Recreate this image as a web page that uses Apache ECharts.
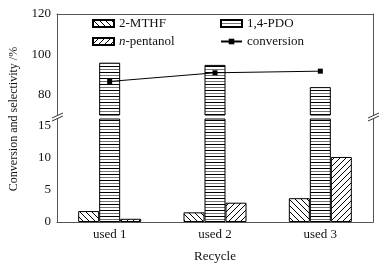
<!DOCTYPE html>
<html>
<head>
<meta charset="utf-8">
<script src="https://cdn.jsdelivr.net/npm/echarts@6/dist/echarts.min.js"></script>
<style>
  html, body { margin: 0; padding: 0; background: #fff; }
  #chart { width: 384px; height: 266px; }
</style>
</head>
<body>
<div id="chart"></div>
<script>
// data
const categories = ['used 1', 'used 2', 'used 3'];
const mthf = [1.7, 1.5, 3.7];
const pdo = [95.9, 94.8, 83.8];
const pentanol = [0.5, 3.0, 10.1];
const conversion = [86.6, 90.9, 91.7];
const upperLabels = [80, 100, 120];
const upperTicks = [80, 90, 100, 110, 120];
const lowerLabels = [0, 5, 10, 15];
const lowerTicks = [0, 2.5, 5, 7.5, 10, 12.5, 15];

const FONT = '"Liberation Serif", "Times New Roman", serif';
const INK = '#111';
const AXIS = '#555';

// layout of the two stacked panels (broken axis)
const L = 57, R = 11;
const upTop = 14, upH = 101;
const loTop = 119, loH = 103;

function hatch(dir) {
  const s = 6;
  const c = document.createElement('canvas');
  c.width = c.height = s;
  const g = c.getContext('2d');
  g.fillStyle = '#fff';
  g.fillRect(0, 0, s, s);
  g.strokeStyle = '#000';
  g.lineWidth = 1;
  g.beginPath();
  if (dir > 0) {
    g.moveTo(0, s); g.lineTo(s, 0);
    g.moveTo(-1, 1); g.lineTo(1, -1);
    g.moveTo(s - 1, s + 1); g.lineTo(s + 1, s - 1);
  } else {
    g.moveTo(0, 0); g.lineTo(s, s);
    g.moveTo(-1, s - 1); g.lineTo(1, s + 1);
    g.moveTo(s - 1, -1); g.lineTo(s + 1, 1);
  }
  g.stroke();
  return { image: c, repeat: 'repeat' };
}
function stripes() {
  const c = document.createElement('canvas');
  c.width = 4; c.height = 6;
  const g = c.getContext('2d');
  g.fillStyle = '#fff';
  g.fillRect(0, 0, 4, 6);
  g.fillStyle = '#000';
  g.fillRect(0, 0, 4, 1);
  g.fillStyle = '#777';
  g.fillRect(0, 3, 4, 1);
  return { image: c, repeat: 'repeat' };
}
const pBack = hatch(-1), pFwd = hatch(1), pStripe = stripes();

const chart = echarts.init(document.getElementById('chart'), null, { renderer: 'canvas' });

const barBase = { type: 'bar', barWidth: 21, barGap: '0%', animation: false };
function barStyle(fill) {
  return { color: fill, borderColor: '#000', borderWidth: 1 };
}
const dashes = arr => arr.map(() => '-');

function slash(x, y) {
  return {
    type: 'line', silent: true,
    shape: { x1: x - 5, y1: y + 2.5, x2: x + 6, y2: y - 2.5 },
    style: { stroke: '#333', lineWidth: 1 }
  };
}
const breakY = (upTop + upH + loTop) / 2;

const option = {
  animation: false,
  textStyle: { fontFamily: FONT, color: INK },
  grid: [
    { left: L, right: R, top: upTop, height: upH },
    { left: L, right: R, top: loTop, height: loH }
  ],
  legend: [
    {
      left: 87, top: 12, orient: 'vertical', itemWidth: 21, itemHeight: 7, itemGap: 5,
      textStyle: { fontFamily: FONT, fontSize: 13, color: INK, rich: { i: { fontFamily: FONT, fontSize: 13, fontStyle: 'italic', color: INK } } },
      formatter: n => n === 'n-pentanol' ? '{i|n}-pentanol' : n,
      data: [{ name: '2-MTHF', icon: 'rect' }, { name: 'n-pentanol', icon: 'rect' }]
    },
    {
      left: 215, top: 12, orient: 'vertical', itemWidth: 21, itemHeight: 7, itemGap: 5,
      textStyle: { fontFamily: FONT, fontSize: 13, color: INK },
      data: [{ name: '1,4-PDO', icon: 'rect' }, { name: 'conversion' }]
    }
  ],
  xAxis: [
    {
      type: 'category', gridIndex: 0, data: categories, position: 'top',
      axisLine: { lineStyle: { color: AXIS } },
      axisTick: { show: false }, axisLabel: { show: false }
    },
    {
      type: 'category', gridIndex: 1, data: categories, position: 'bottom',
      name: 'Recycle', nameLocation: 'middle', nameGap: 28,
      nameTextStyle: { fontFamily: FONT, fontSize: 13, color: INK },
      axisLine: { lineStyle: { color: AXIS } },
      axisTick: { inside: true, length: 3, lineStyle: { color: AXIS } },
      axisLabel: { fontFamily: FONT, fontSize: 13, color: INK, margin: 6 }
    }
  ],
  yAxis: [
    {
      type: 'value', gridIndex: 0, min: 70, max: 120, interval: 10,
      splitLine: { show: false },
      axisLine: { show: true, lineStyle: { color: AXIS } },
      axisTick: { inside: true, length: 4, customValues: upperTicks, lineStyle: { color: AXIS } },
      axisLabel: { fontFamily: FONT, fontSize: 13, color: INK, margin: 6, customValues: upperLabels }
    },
    {
      type: 'value', gridIndex: 0, min: 70, max: 120, position: 'right',
      splitLine: { show: false }, axisTick: { show: false }, axisLabel: { show: false },
      axisLine: { show: true, lineStyle: { color: AXIS } }
    },
    {
      type: 'value', gridIndex: 1, min: 0, max: 16, interval: 5,
      splitLine: { show: false },
      axisLine: { show: true, lineStyle: { color: AXIS } },
      axisTick: { inside: true, length: 4, customValues: lowerTicks, lineStyle: { color: AXIS } },
      axisLabel: { fontFamily: FONT, fontSize: 13, color: INK, margin: 6, customValues: lowerLabels }
    },
    {
      type: 'value', gridIndex: 1, min: 0, max: 16, position: 'right',
      splitLine: { show: false }, axisTick: { show: false }, axisLabel: { show: false },
      axisLine: { show: true, lineStyle: { color: AXIS } }
    }
  ],
  series: [
    // upper panel: only the 1,4-PDO bars reach it; the others keep their slots
    { ...barBase, name: '2-MTHF', xAxisIndex: 0, yAxisIndex: 0, data: dashes(mthf), itemStyle: barStyle(pBack) },
    { ...barBase, name: '1,4-PDO', xAxisIndex: 0, yAxisIndex: 0, data: pdo, itemStyle: barStyle(pStripe) },
    { ...barBase, name: 'n-pentanol', xAxisIndex: 0, yAxisIndex: 0, data: dashes(pentanol), itemStyle: barStyle(pFwd) },
    // lower panel
    { ...barBase, name: '2-MTHF', xAxisIndex: 1, yAxisIndex: 2, data: mthf, itemStyle: barStyle(pBack) },
    { ...barBase, name: '1,4-PDO', xAxisIndex: 1, yAxisIndex: 2, data: pdo, itemStyle: barStyle(pStripe) },
    { ...barBase, name: 'n-pentanol', xAxisIndex: 1, yAxisIndex: 2, data: pentanol, itemStyle: barStyle(pFwd) },
    {
      type: 'line', name: 'conversion', xAxisIndex: 0, yAxisIndex: 0, data: conversion,
      symbol: 'rect', symbolSize: 5, showSymbol: true, z: 5,
      lineStyle: { color: '#000', width: 1 },
      itemStyle: { color: '#000' }
    }
  ],
  graphic: [
    {
      type: 'text', silent: true, rotation: Math.PI / 2,
      x: 14, y: 119,
      style: { text: 'Conversion and selectivity /%', fontFamily: FONT, fontSize: 12, fill: INK, align: 'center', verticalAlign: 'middle' }
    },
    slash(L, breakY - 1.5), slash(L, breakY + 1.5),
    slash(384 - R, breakY - 1.5), slash(384 - R, breakY + 1.5)
  ]
};
chart.setOption(option);
</script>
</body>
</html>
